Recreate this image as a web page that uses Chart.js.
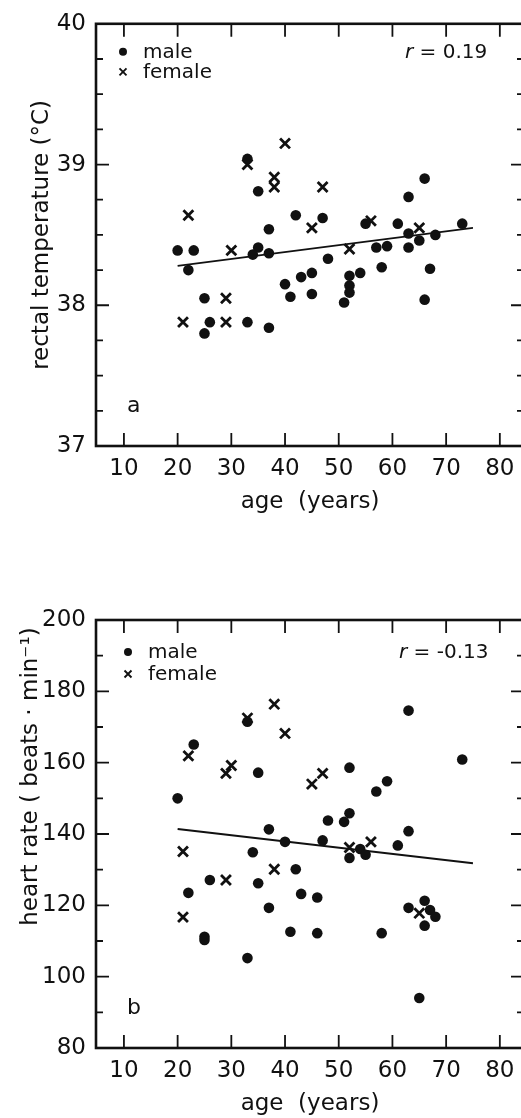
<!DOCTYPE html>
<html>
<head>
<meta charset="utf-8">
<script src="https://cdn.jsdelivr.net/npm/chart.js@4.4.1/dist/chart.umd.min.js"></script>
<style>
  html, body { margin: 0; padding: 0; background: #fff; }
  body { width: 521px; height: 1118px; overflow: hidden; position: relative; }
  .panel { position: absolute; left: 0; }
</style>
</head>
<body>
<div class="panel" style="top:0"><canvas id="chartA" width="526" height="516"></canvas></div>
<div class="panel" style="top:560px"><canvas id="chartB" width="526" height="558"></canvas></div>
<script>
// a: rectal temperature by age
const tempMaleAge = [33, 35, 42, 37, 20, 23, 35, 34, 37, 22, 43, 40, 41, 25, 26, 33, 37, 25, 47, 48,
                     45, 45, 52, 52, 52, 51, 54, 55, 57, 59, 58, 61, 63, 66, 63, 65, 63, 68, 67, 66, 73];
const tempMale = [39.04, 38.81, 38.64, 38.54, 38.39, 38.39, 38.41, 38.36, 38.37, 38.25, 38.20, 38.15, 38.06, 38.05,
                  37.88, 37.88, 37.84, 37.80, 38.62, 38.33, 38.23, 38.08, 38.21, 38.14, 38.09, 38.02, 38.23, 38.58,
                  38.41, 38.42, 38.27, 38.58, 38.77, 38.90, 38.51, 38.46, 38.41, 38.50, 38.26, 38.04, 38.58];
const tempFemaleAge = [40, 33, 38, 38, 22, 45, 30, 29, 21, 29, 47, 52, 56, 65];
const tempFemale = [39.15, 39.00, 38.91, 38.84, 38.64, 38.55, 38.39, 38.05, 37.88, 37.88, 38.84, 38.40, 38.60, 38.55];

// b: heart rate by age
const rateMaleAge = [33, 23, 35, 20, 63, 73, 52, 59, 57, 37, 40, 34, 42, 26, 35, 22, 43, 37, 41, 25,
                     25, 33, 52, 48, 51, 63, 47, 61, 54, 55, 52, 46, 66, 63, 67, 68, 66, 46, 58, 65];
const rateMale = [171.5, 165.1, 157.2, 150.0, 174.6, 160.9, 158.6, 154.8, 151.9, 141.3, 137.8, 134.9, 130.1, 127.1,
                  126.2, 123.5, 123.2, 119.3, 112.6, 111.2, 110.3, 105.2, 145.8, 143.8, 143.4, 140.8, 138.2, 136.8,
                  135.8, 134.2, 133.3, 122.2, 121.3, 119.3, 118.7, 116.8, 114.3, 112.2, 112.2, 94.0];
const rateFemaleAge = [38, 33, 40, 22, 30, 29, 47, 45, 21, 38, 29, 21, 56, 52, 65];
const rateFemale = [176.4, 172.5, 168.2, 161.9, 159.2, 157.0, 157.0, 154.0, 135.1, 130.1, 127.1, 116.7, 137.8, 136.2, 117.8];

// regression lines, end points
const fitAge = [20, 75];
const fitTemp = [38.28, 38.55];
const fitRate = [141.4, 131.8];

const ageTicks = [10, 20, 30, 40, 50, 60, 70, 80];

const INK = '#111';
const FONT = '"DejaVu Sans", sans-serif';
const tickFont = { family: FONT, size: 23 };

const pairs = (xs, ys) => xs.map((v, i) => ({ x: v, y: ys[i] }));

// box, inward ticks, legend, r value and panel letter
const frame = {
  id: 'frame',
  afterDatasetsDraw(chart, args, o) {
    const { ctx, chartArea: a, scales: { x, y } } = chart;
    ctx.save();
    ctx.strokeStyle = INK;
    ctx.lineWidth = 2.6;
    ctx.strokeRect(a.left, a.top, a.right - a.left, a.bottom - a.top);

    ctx.lineWidth = 1.8;
    ctx.beginPath();
    ageTicks.forEach(v => {
      const px = x.getPixelForValue(v);
      ctx.moveTo(px, a.bottom); ctx.lineTo(px, a.bottom - 13);
      ctx.moveTo(px, a.top); ctx.lineTo(px, a.top + 13);
    });
    const n = Math.round((y.max - y.min) / o.minor);
    for (let k = 0; k <= n; k++) {
      const py = y.getPixelForValue(y.min + k * o.minor);
      const len = k % o.per === 0 ? 13 : 7;
      ctx.moveTo(a.left, py); ctx.lineTo(a.left + len, py);
      ctx.moveTo(a.right, py); ctx.lineTo(a.right - len, py);
    }
    ctx.stroke();

    // legend
    const lx = a.left + o.legX, ly = a.top + o.legY;
    ctx.fillStyle = INK;
    ctx.beginPath();
    ctx.arc(lx, ly, 4, 0, Math.PI * 2);
    ctx.fill();
    ctx.lineWidth = 1.9;
    ctx.beginPath();
    const c = 3.5, fy = ly + o.legGap;
    ctx.moveTo(lx - c, fy - c); ctx.lineTo(lx + c, fy + c);
    ctx.moveTo(lx - c, fy + c); ctx.lineTo(lx + c, fy - c);
    ctx.stroke();
    ctx.font = '20px ' + FONT;
    ctx.textBaseline = 'middle';
    ctx.fillText('male', lx + 20, ly + 1);
    ctx.fillText('female', lx + 20, fy + 1);

    // correlation coefficient
    ctx.font = 'italic 20px ' + FONT;
    ctx.fillText('r', o.rX, ly + 1);
    const rw = ctx.measureText('r').width;
    ctx.font = '20px ' + FONT;
    ctx.fillText(' = ' + o.r, o.rX + rw, ly + 1);

    // panel letter
    ctx.font = '22px ' + FONT;
    ctx.textBaseline = 'alphabetic';
    ctx.fillText(o.letter, a.left + 31, a.bottom - 34);
    ctx.restore();
  }
};

function panel(id, male, female, fit, yOpts, top, extra) {
  return new Chart(document.getElementById(id), {
    type: 'scatter',
    data: {
      datasets: [
        {
          label: 'male', data: male,
          pointStyle: 'circle', pointRadius: 5.3, pointBackgroundColor: INK, pointBorderWidth: 0
        },
        {
          label: 'female', data: female,
          pointStyle: 'crossRot', pointRadius: 7, pointBorderColor: INK, pointBorderWidth: 2.8
        },
        {
          label: 'fit', data: fit, showLine: true, pointRadius: 0,
          borderColor: INK, borderWidth: 1.8
        }
      ]
    },
    options: {
      responsive: false,
      animation: false,
      events: [],
      layout: { autoPadding: false, padding: { top: top, right: 2, left: 0, bottom: 0 } },
      plugins: { legend: { display: false }, tooltip: { enabled: false }, frame: extra },
      scales: {
        x: {
          type: 'linear', min: 4.8, max: 84.5,
          grid: { display: false, drawTicks: false }, border: { display: false },
          ticks: { stepSize: 10, includeBounds: false, autoSkip: false, maxRotation: 0,
                   padding: 9, color: INK, font: tickFont },
          title: { display: true, text: 'age  (years)', color: INK, font: tickFont, padding: 0 },
          afterFit: s => { s.height = 70; }
        },
        y: {
          min: yOpts.min, max: yOpts.max,
          grid: { display: false, drawTicks: false }, border: { display: false },
          ticks: { stepSize: yOpts.step, autoSkip: false, padding: 10, color: INK, font: tickFont },
          title: { display: true, text: yOpts.title, color: INK, font: tickFont,
                   align: yOpts.align, padding: { top: yOpts.titlePad, bottom: 0 } },
          afterFit: s => { s.width = 96; }
        }
      }
    },
    plugins: [frame]
  });
}

panel('chartA',
  pairs(tempMaleAge, tempMale), pairs(tempFemaleAge, tempFemale), pairs(fitAge, fitTemp),
  { min: 37, max: 40, step: 1, title: 'rectal temperature (°C)', align: 'center', titlePad: 28 }, 15,
  { minor: 0.25, per: 4, legX: 27, legY: 28, legGap: 20, rX: 405, r: '0.19', letter: 'a' });

panel('chartB',
  pairs(rateMaleAge, rateMale), pairs(rateFemaleAge, rateFemale), pairs(fitAge, fitRate),
  { min: 80, max: 200, step: 20, title: 'heart rate ( beats · min⁻¹) ', align: 'end', titlePad: 17 }, 60,
  { minor: 10, per: 2, legX: 32, legY: 32, legGap: 22, rX: 399, r: '-0.13', letter: 'b' });
</script>
</body>
</html>
